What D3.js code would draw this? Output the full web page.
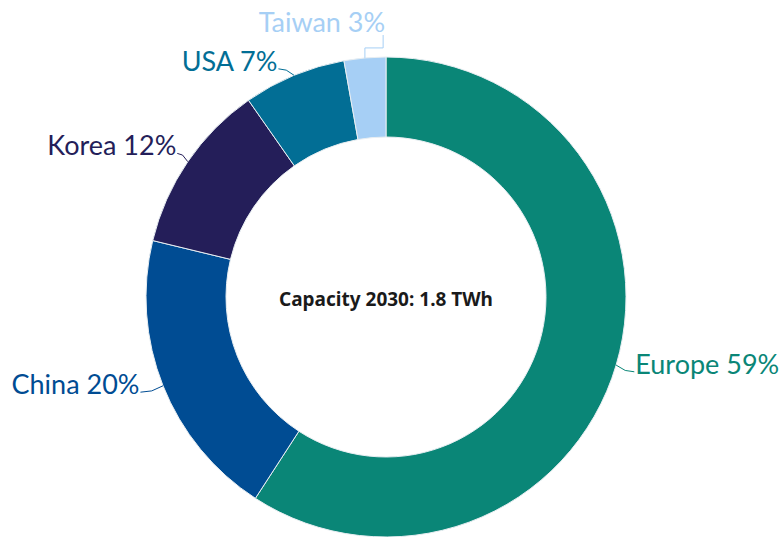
<!DOCTYPE html>
<html>
<head>
<meta charset="utf-8">
<script src="https://cdn.jsdelivr.net/npm/d3@7"></script>
<style>
  html, body { margin: 0; padding: 0; background: #fff; }
  svg { display: block; }
  .label { font-family: Lato, "Noto Sans", sans-serif; font-size: 27px; }
  .center { font-family: "Noto Sans", sans-serif; font-size: 19px; font-weight: bold; fill: #1a1a1a; }
</style>
</head>
<body>
<div id="chart"></div>
<script>
// shares of 2030 capacity, clockwise from 12 o'clock
const regions = ['Europe', 'China', 'Korea', 'USA', 'Taiwan'];
const shares = [59.1, 19.6, 11.5, 6.9, 2.8];
const colors = ['#0a8677', '#004c93', '#241e59', '#026e95', '#a6cff5'];
const centerLabel = 'Capacity 2030: 1.8 TWh';

const width = 780;
const height = 537;
const cx = 386, cy = 297;
const outerR = 240, innerR = 160;

const data = regions.map((name, i) => ({ name, value: shares[i], color: colors[i] }));

const svg = d3.select('#chart').append('svg')
    .attr('width', width)
    .attr('height', height);

const g = svg.append('g').attr('transform', `translate(${cx},${cy})`);

const pie = d3.pie().sort(null).value(d => d.value);
const arc = d3.arc().innerRadius(innerR).outerRadius(outerR);
const arcs = pie(data);

g.selectAll('path.slice')
    .data(arcs)
    .enter().append('path')
    .attr('class', 'slice')
    .attr('d', arc)
    .attr('fill', d => d.data.color)
    .attr('stroke', '#e8eef2')
    .attr('stroke-width', 1);

// label layout: point on the rim at the mid angle, label pushed out a bit
// small nudges copy where the original placed them to avoid overlap
const nudge = {
    Europe: [-1, 1],
    China: [-4, -1],
    Korea: [6, 3],
    USA: [-8, 12],
    Taiwan: [20, -3]
};

arcs.forEach(d => {
    const a = (d.startAngle + d.endAngle) / 2;
    const sx = Math.sin(a), sy = -Math.cos(a);
    const rim = [outerR * sx, outerR * sy];
    const n = nudge[d.data.name] || [0, 0];
    const lx = (outerR + 20) * sx + n[0];
    const ly = (outerR + 20) * sy + n[1];
    d.rim = rim;
    d.lab = [lx, ly];
    d.anchor = sx > 0 ? 'start' : 'end';
});

// connectors
g.selectAll('path.connector')
    .data(arcs)
    .enter().append('path')
    .attr('class', 'connector')
    .attr('fill', 'none')
    .attr('stroke', d => d.data.color)
    .attr('stroke-width', 1)
    .attr('d', d => {
        const [rx, ry] = d.rim;
        const [lx, ly] = d.lab;
        if (d.data.name === 'Taiwan') {
            const ey = ry - 10;
            return `M${lx},${ly} L${lx},${ey} L${rx},${ey} L${rx},${ry}`;
        }
        const mx = (rx + lx) / 2;
        return `M${lx},${ly} L${mx},${ly + (ry - ly) * 0.2} L${rx},${ry}`;
    });

g.selectAll('text.label')
    .data(arcs)
    .enter().append('text')
    .attr('class', 'label')
    .attr('x', d => d.data.name === 'Taiwan' ? d.lab[0] + 2 : d.lab[0] + (d.anchor === 'start' ? 1 : -1))
    .attr('y', d => d.data.name === 'Taiwan' ? d.lab[1] - 3 : d.lab[1] + 2)
    .attr('text-anchor', d => d.anchor)
    .attr('fill', d => d.data.color)
    .text(d => `${d.data.name} ${Math.round(d.data.value)}%`);

g.append('text')
    .attr('class', 'center')
    .attr('x', 0)
    .attr('y', 9)
    .attr('text-anchor', 'middle')
    .text(centerLabel);
</script>
</body>
</html>
